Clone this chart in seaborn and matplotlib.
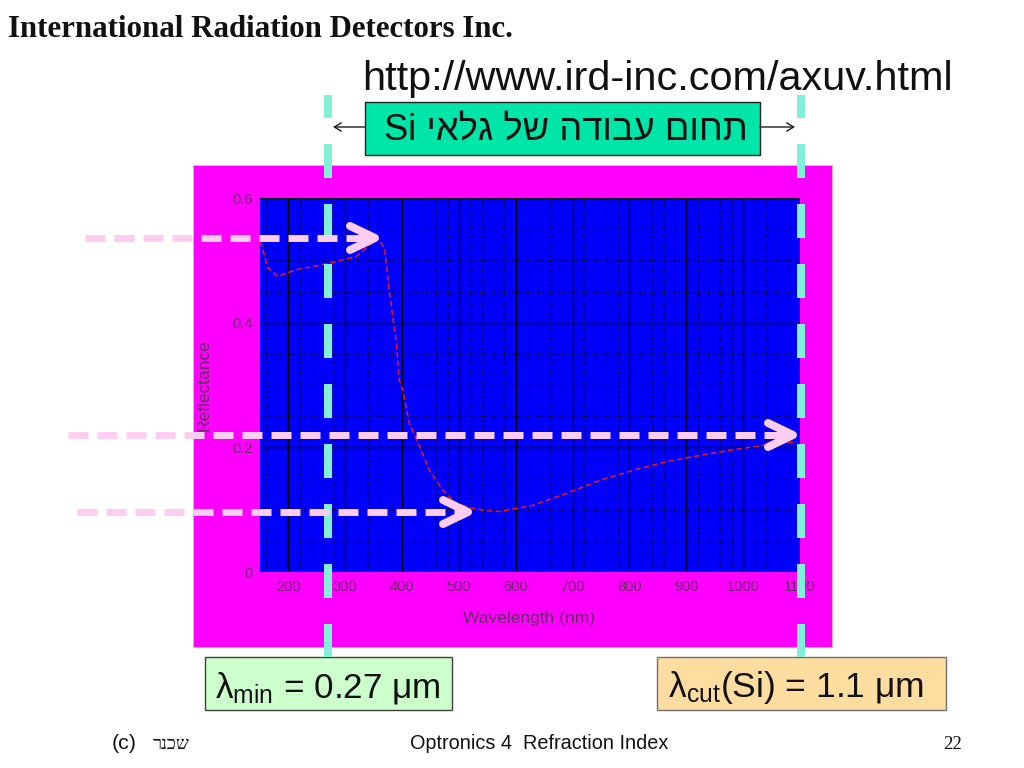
import matplotlib
matplotlib.use("Agg")
import matplotlib.pyplot as plt
import seaborn as sns
from matplotlib.patches import Rectangle
from matplotlib.ticker import MultipleLocator

# ---------------- data ----------------
wavelength_nm = [151, 164, 181, 214, 260, 319, 357, 369, 378, 390, 395, 401,
                 413, 431, 448, 472, 495, 524, 554, 572, 630, 689, 748, 806,
                 865, 924, 982, 1041, 1094]
reflectance = [0.530, 0.488, 0.474, 0.485, 0.493, 0.506, 0.536, 0.520, 0.447,
               0.367, 0.308, 0.292, 0.238, 0.201, 0.163, 0.131, 0.110, 0.102,
               0.098, 0.097, 0.107, 0.126, 0.147, 0.163, 0.177, 0.187, 0.196,
               0.204, 0.209]
x_ticks = [200, 300, 400, 500, 600, 700, 800, 900, 1000, 1100]
x_tick_labels = [str(v) for v in x_ticks]
y_ticks = [0, 0.2, 0.4, 0.6]
y_tick_labels = ["0", "0.2", "0.4", "0.6"]
x_label = "Wavelength (nm)"
y_label = "Reflectance"

title_text = "International Radiation Detectors Inc."
url_text = "http://www.ird-inc.com/axuv.html"
range_text = "תחום עבודה של גלאי Si"          # logical (RTL) order
lmin_text = r"λ$_{\mathrm{min}}$ = 0.27 μm"
lcut_text = r"λ$_{\mathrm{cut}}$(Si) = 1.1 μm"
footer_c = "(c)"
footer_name = "שכנר"                            # logical (RTL) order
footer_mid = "Optronics 4  Refraction Index"
footer_page = "22"


def visual_rtl(s):
    """matplotlib lays text out left to right; reorder Hebrew for display."""
    words = s.split(" ")[::-1]
    out = []
    for w in words:
        if any("\u0590" <= ch <= "\u05ff" for ch in w):
            out.append(w[::-1])
        else:
            out.append(w)
    return " ".join(out)


plt.rcParams["lines.scale_dashes"] = False
plt.rcParams["mathtext.fontset"] = "custom"
plt.rcParams["mathtext.rm"] = "Liberation Sans"
plt.rcParams["mathtext.it"] = "Liberation Sans:italic"
plt.rcParams["font.family"] = ["Liberation Sans", "DejaVu Sans"]

W, H = 1024, 768
PX = 0.72  # points per pixel at dpi 100
fig = plt.figure(figsize=(W / 100, H / 100), dpi=100, facecolor="white")

# background layer (magenta panel)
bg = fig.add_axes([0, 0, 1, 1], zorder=0)
bg.set_xlim(0, W)
bg.set_ylim(H, 0)
bg.axis("off")
bg.add_patch(Rectangle((193, 165), 639, 482, facecolor="#FF00FF",
                       edgecolor="#FFB0A0", lw=0.6))

# chart axes
label_col = "#6a2a6a"
ax = fig.add_axes([260 / W, (H - 572) / H, 540 / W, 374 / H], zorder=1)
ax.set_facecolor("#0000FF")
sns.lineplot(x=wavelength_nm, y=reflectance, ax=ax, color="#F01818",
             lw=1.1, linestyle=(0, (4, 2.2)), sort=False, estimator=None)
ax.set_xlim(150, 1100)
ax.set_ylim(0, 0.6)
ax.set_xticks(x_ticks, labels=x_tick_labels)
ax.set_yticks(y_ticks, labels=y_tick_labels)
ax.xaxis.set_minor_locator(MultipleLocator(20))
ax.yaxis.set_minor_locator(MultipleLocator(0.05))
ax.grid(which="major", color="black", lw=1.0, ls="-")
ax.grid(which="minor", color="black", lw=0.9, ls=(0, (1, 2.5)))
ax.tick_params(which="both", length=0)
ax.tick_params(axis="both", labelsize=10.5, labelcolor=label_col, pad=5.5)
for sp in ax.spines.values():
    sp.set_visible(False)
ax.set_xlabel(x_label, fontsize=12.5, color=label_col)
ax.set_ylabel(y_label, fontsize=12.5, color=label_col)
ax.xaxis.set_label_coords((529 - 260) / 540, -(611 - 572) / 374)
ax.yaxis.set_label_coords(-(260 - 212) / 540, 0.5)

# overlay layer (annotations)
ov = fig.add_axes([0, 0, 1, 1], zorder=3)
ov.set_xlim(0, W)
ov.set_ylim(H, 0)
ov.axis("off")
ov.patch.set_alpha(0)

cyan = "#80F0D8"
for xc in (328, 801):
    ov.plot([xc, xc], [95, 657], color=cyan, lw=8 * PX, solid_capstyle="butt",
            dash_capstyle="butt", linestyle=(11 * PX, (34 * PX, 26 * PX)))

pink = "#FFCCF2"
for x0, x1, y in ((85, 375, 238), (68, 793, 435), (77, 468, 512)):
    ov.plot([x0, x1 - 6], [y, y], color=pink, lw=7 * PX, dash_capstyle="butt",
            linestyle=(0, (20 * PX, 9 * PX)))
    ov.plot([x1 - 25, x1, x1 - 25], [y - 12, y, y + 12], color=pink,
            lw=8 * PX, solid_capstyle="round", solid_joinstyle="round")

# boxes
ov.add_patch(Rectangle((365, 102), 395, 53, facecolor="#00E5A8",
                       edgecolor="#202020", lw=1.0))
ov.add_patch(Rectangle((205, 657), 247, 53, facecolor="#CCFFCC",
                       edgecolor="#404040", lw=1.0))
ov.add_patch(Rectangle((657, 657), 289, 53, facecolor="#FFDDA0",
                       edgecolor="#707070", lw=1.0))

ov.annotate("", xy=(333, 127), xytext=(365, 127),
            arrowprops=dict(arrowstyle="->,head_length=0.5,head_width=0.3",
                            color="#202020", lw=1.0, shrinkA=0, shrinkB=0))
ov.annotate("", xy=(795, 127), xytext=(760, 127),
            arrowprops=dict(arrowstyle="->,head_length=0.5,head_width=0.3",
                            color="#202020", lw=1.0, shrinkA=0, shrinkB=0))

renderer = fig.canvas.get_renderer()


def fit(t, target_w):
    w = t.get_window_extent(renderer).width
    t.set_fontsize(t.get_fontsize() * target_w / w)
    return t


fit(ov.text(8, 37, title_text, ha="left", va="baseline",
            family=["Liberation Serif", "DejaVu Serif"], weight="bold",
            fontsize=21, color="#111111"), 504)
fit(ov.text(362, 90, url_text, ha="left", va="baseline",
            family=["Liberation Sans", "DejaVu Sans"], fontsize=29.5,
            color="#111111"), 590)
fit(ov.text(566, 140, visual_rtl(range_text), ha="center", va="baseline",
            family=["Liberation Sans", "DejaVu Sans"], fontsize=25,
            color="#111111"), 363)
fit(ov.text(215, 697, lmin_text, ha="left", va="baseline",
            family=["Liberation Sans", "DejaVu Sans"], fontsize=26,
            color="#111111"), 226)
fit(ov.text(668, 697, lcut_text, ha="left", va="baseline",
            family=["Liberation Sans", "DejaVu Sans"], fontsize=26,
            color="#111111"), 256)

fit(ov.text(112, 749, footer_c, ha="left", va="baseline",
            family=["Liberation Sans", "DejaVu Sans"], fontsize=15,
            color="#111111"), 25)
fit(ov.text(153, 749, visual_rtl(footer_name), ha="left", va="baseline",
            family=["Liberation Serif", "DejaVu Sans"], fontsize=12.5,
            color="#111111"), 37)
fit(ov.text(410, 749, footer_mid, ha="left", va="baseline",
            family=["Liberation Sans", "DejaVu Sans"], fontsize=13,
            color="#111111"), 257)
ov.text(962, 749, footer_page, ha="right", va="baseline",
        family=["Liberation Serif", "DejaVu Serif"], fontsize=13.5,
        color="#111111")

fig.savefig("out.png", dpi=100, facecolor="white")
